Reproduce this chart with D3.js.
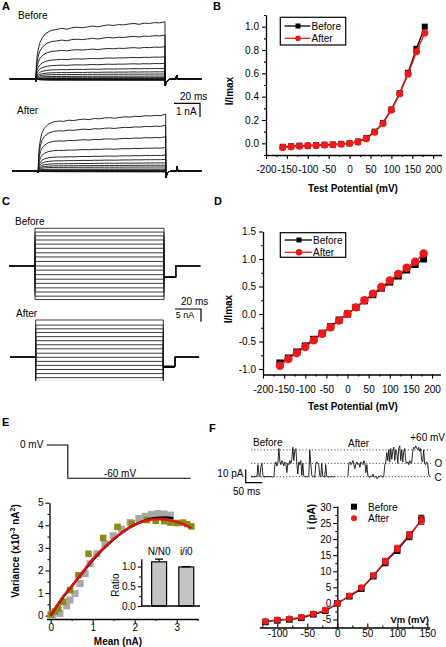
<!DOCTYPE html>
<html><head><meta charset="utf-8">
<script src="https://cdnjs.cloudflare.com/ajax/libs/d3/7.8.5/d3.min.js"></script>
<style>
html,body{margin:0;padding:0;background:#fff;}
svg{display:block;}
</style></head>
<body>
<svg id="fig" width="446" height="647"></svg>
<script>
// ================= DATA =================
const potentials = [-160,-140,-120,-100,-80,-60,-40,-20,0,20,40,60,80,100,120,140,160,180];
// Panel B (I/Imax)
const bBefore = [-0.03,-0.025,-0.02,-0.02,-0.015,-0.012,-0.01,-0.005,0,0.015,0.045,0.1,0.175,0.29,0.43,0.605,0.81,1.0];
const bAfter  = [-0.035,-0.03,-0.025,-0.02,-0.018,-0.015,-0.012,-0.008,0,0.012,0.04,0.095,0.17,0.285,0.425,0.595,0.785,0.945];
const bXTicks = [-200,-150,-100,-50,0,50,100,150,200];
const bXMinor = [-175,-125,-75,-25,25,75,125,175];
const bYTicks = [0,0.2,0.4,0.6,0.8,1.0];
const bYMinor = [-0.1,0.1,0.3,0.5,0.7,0.9,1.1];
// Panel D (I/Imax)
const dBefore = [-0.89,-0.80,-0.69,-0.58,-0.46,-0.35,-0.23,-0.11,0,0.12,0.24,0.35,0.47,0.58,0.69,0.80,0.90,1.0];
const dAfter  = [-0.94,-0.82,-0.71,-0.60,-0.48,-0.36,-0.24,-0.12,0,0.12,0.25,0.37,0.49,0.61,0.73,0.84,0.95,1.10];
const dYTicks = [-1.0,-0.5,0,0.5,1.0,1.5];
const dYMinor = [-0.75,-0.25,0.25,0.75,1.25];
// Panel A traces: activation time course (normalised) and steady amplitudes (nA)
const aTimes = [0,0.5,1,2,3,5,8,12,16,20,24,28,32,36,40,44,48,52,56,60,64,68,72,76,80,84,88,92,96,100];
const aShapeBefore = [0,0.22,0.38,0.52,0.62,0.72,0.8,0.85,0.865,0.885,0.87,0.895,0.905,0.895,0.91,0.925,0.91,0.93,0.945,0.935,0.95,0.945,0.96,0.97,0.955,0.975,0.97,0.985,0.98,1.0];
const aShapeAfter  = [0,0.25,0.42,0.56,0.66,0.75,0.82,0.86,0.875,0.87,0.89,0.885,0.9,0.91,0.9,0.92,0.915,0.93,0.935,0.925,0.94,0.95,0.945,0.96,0.955,0.97,0.965,0.975,0.97,1.0];
const aAmpBefore = [-0.08,-0.07,-0.06,-0.05,-0.04,-0.02,0,0.04,0.1,0.21,0.36,0.52,0.76,1.12,1.59,2.31,3.14,4.09];
const aAmpAfter  = [-0.08,-0.07,-0.06,-0.05,-0.04,-0.02,0,0.05,0.12,0.27,0.4,0.57,0.81,1.12,1.66,2.43,3.26,4.05];
const aTailT = [100,100.5,101.2,102.2,103.5,105.5];
const aTailV = [-0.5,-0.38,-0.22,-0.1,-0.03,0];
const aBlipT = [108.6,109,109.4];
const aBlipV = [0,0.28,0];
// Panel C tail level (normalised)
const cTailBefore = -0.30;
const cTailAfter = -0.28;
// Panel E
const eProtoT = [0,22,22,150];
const eProtoV = [0,0,-60,-60];
const eGrayMean = [0.05,0.22,0.38,0.46,0.58,0.7,0.82,0.94,1.1,1.29,1.49,1.69,1.89,2.1,2.25,2.4,2.55,2.7,2.85];
const eGrayVar  = [0.0,0.1,0.43,0.69,0.98,1.42,1.86,2.3,2.74,3.18,3.54,3.83,4.12,4.3,4.4,4.48,4.52,4.5,4.45];
const eOliveMean = [0.0,0.1,0.18,0.3,0.46,0.66,0.9,1.25,1.59,1.93,2.29,2.5,2.7,2.85,3.0,3.15,3.25,3.35];
const eOliveVar  = [0.05,0.18,0.32,0.61,1.13,1.79,2.74,3.44,3.93,4.08,4.23,4.2,4.18,4.12,4.1,4.12,4.05,3.95];
const eBlackFitX = [0,0.25,0.5,0.75,1.0,1.25,1.5,1.75,2.0,2.25,2.5,2.75,2.92];
const eBlackFitY = [0,0.7,1.3,1.88,2.45,2.95,3.38,3.75,4.03,4.22,4.33,4.35,4.3];
const eRedFitX = [0,0.25,0.5,0.75,1.0,1.25,1.5,1.75,2.0,2.25,2.5,2.75,3.0,3.2,3.35];
const eRedFitY = [0,0.72,1.3,1.9,2.5,2.98,3.4,3.75,4.02,4.2,4.28,4.25,4.15,4.02,3.88];
const insetCats = ["N/N0","i/i0"];
const insetVals = [1.12,0.99];
const insetErr  = [0.07,0.01];
// Panel F single channel traces (pA), one sample every 3 ms
const fTraceBefore = [0,0.5,-0.5,0.3,-0.3,0.4,0,9,1,0,8,10,0.5,0,-0.4,0.3,0,-0.2,0.4,-0.3,0.2,0,-0.5,0.3,9,11,8,10,21,11,9,12,10,8,11,10,3,10,9,12,10,13,22,12,20,21,10,2,11,9,12,1,10,0.5,0,-0.3,0.2,0,0.4,20,10,1,0,0.3,-0.4,9,11,10,9,1,0,10,0.5,0,-0.3,9,0.2,0,-0.4,0.3,-0.2,0.5,-0.3,0,0.2];
const fTraceAfter = [0.5,10,11,9,10,12,9,6,10,11,9,10,7,11,10,9,12,10,3,9,0.5,0,-0.5,0.3,0,2,0,-0.4,0.3,-1.5,-1,0.5,0,1,0,-0.3,0.5,9,11,18,12,20,11,21,13,19,22,12,20,18,10,21,23,12,20,11,19,21,12,10,11,9,12,10,11,19,22,21,23,21,20,22,19,21,12,11,20,10,9,11,10,2,0];
const fLevels = [0,10,20];
// Panel F I-V
const fV = [-120,-100,-80,-60,-40,-20,0,20,40,60,80,100,120,140];
const fBefore = [-5.8,-5.3,-5.0,-4.5,-3.4,-2.3,0,2.2,4.6,8.5,12.8,16.6,21.0,26.0];
const fAfter  = [-5.6,-5.1,-4.8,-4.3,-3.2,-2.1,0,2.4,4.9,8.7,13.1,17.1,21.3,25.8];
const fBeforeErr = [0.5,0.5,0.5,0.5,0.5,0.6,0.3,0.5,0.8,0.8,1.1,1.1,1.2,1.4];
const fAfterErr  = [0.4,0.4,0.4,0.4,0.4,0.5,0.3,0.4,0.6,0.7,0.9,1.0,1.0,1.2];
const fXTicks = [-100,-50,0,50,100,150];
const fXMinor = [-125,-75,-25,25,75,125];
const fYTicks = [-5,0,5,10,15,20,25,30];
const fYMinor = [-7.5,-2.5,2.5,7.5,12.5,17.5,22.5,27.5];

// ================= HELPERS =================
const FONT = "'Liberation Sans', Arial, Helvetica, sans-serif";
const RED = "#ee1a1a";
const svg = d3.select("#fig");
svg.append("rect").attr("width",446).attr("height",647).attr("fill","#fff");

function addText(x,y,s,o={}){
  const t = svg.append("text").attr("x",x).attr("y",y)
    .attr("font-family",FONT).attr("font-size",o.size||10)
    .attr("font-weight",o.bold?"bold":"normal")
    .attr("text-anchor",o.anchor||"start").attr("fill",o.fill||"#000").text(s);
  if(o.rot) t.attr("transform",`rotate(-90 ${x} ${y})`);
  return t;
}
function axisPair(kind, scale, pos, major, minor, fmt, o={}){
  const mk = kind==="left"? d3.axisLeft : d3.axisBottom;
  const tg = kind==="left" ? `translate(${pos},0)` : `translate(0,${pos})`;
  const ax = mk(scale).tickValues(major).tickFormat(fmt)
    .tickSizeInner(o.tick??4).tickSizeOuter(0).tickPadding(o.pad??3);
  const g = svg.append("g").attr("transform",tg).call(ax);
  g.attr("font-family",FONT).attr("font-size",o.fs||10);
  g.select(".domain").attr("stroke","#000").attr("stroke-width",1.3);
  g.selectAll(".tick line").attr("stroke","#000").attr("stroke-width",1.1);
  g.selectAll(".tick text").attr("fill","#000");
  if(minor){
    const m = svg.append("g").attr("transform",tg)
      .call(mk(scale).tickValues(minor).tickFormat("").tickSizeInner(o.mtick??2).tickSizeOuter(0));
    m.select(".domain").remove();
    m.selectAll(".tick line").attr("stroke","#000").attr("stroke-width",1.1);
  }
  return g;
}
function linePath(pts, xs, ys, color, w, curve, parent){
  const l = d3.line().x(d=>xs(d[0])).y(d=>ys(d[1]));
  if(curve) l.curve(curve);
  return (parent||svg).append("path").datum(pts).attr("d",l).attr("fill","none")
    .attr("stroke",color).attr("stroke-width",w).attr("stroke-linejoin","round");
}
function squares(X,Y,xs,ys,size,fill){
  svg.append("g").selectAll("rect").data(d3.zip(X,Y)).join("rect")
    .attr("x",d=>xs(d[0])-size/2).attr("y",d=>ys(d[1])-size/2)
    .attr("width",size).attr("height",size).attr("fill",fill);
}
function circles(X,Y,xs,ys,r,fill){
  svg.append("g").selectAll("circle").data(d3.zip(X,Y)).join("circle")
    .attr("cx",d=>xs(d[0])).attr("cy",d=>ys(d[1])).attr("r",r).attr("fill",fill);
}

// ================= PANEL LETTERS =================
addText(2,9.5,"A",{bold:true,size:11});
addText(213,9.5,"B",{bold:true,size:11});
addText(2,205,"C",{bold:true,size:11});
addText(214,205,"D",{bold:true,size:11});
addText(2,426,"E",{bold:true,size:11});
addText(209,432,"F",{bold:true,size:11});

// ================= PANEL A =================
function drawATraces(xs, ys, amps, shape){
  amps.forEach(amp=>{
    const pts = [[-20,0],[0,0],[0.15,-0.15]];
    aTimes.forEach((t,i)=>{ if(i>0) pts.push([t, amp*shape[i]]); });
    aTailT.forEach((t,i)=>pts.push([t,aTailV[i]]));
    aBlipT.forEach((t,i)=>pts.push([t,aBlipV[i]]));
    pts.push([128,0]);
    linePath(pts, xs, ys, "#111", 0.9);
  });
}
const xAb = d3.scaleLinear().domain([0,100]).range([35.7,165]);
const yAb = d3.scaleLinear().domain([0,1]).range([79,65]);
drawATraces(xAb, yAb, aAmpBefore, aShapeBefore);
const xAa = d3.scaleLinear().domain([0,100]).range([38,165.7]);
const yAa = d3.scaleLinear().domain([0,1]).range([170.7,156.7]);
drawATraces(xAa, yAa, aAmpAfter, aShapeAfter);
addText(18,19.3,"Before");
addText(17,114,"After");
svg.append("path").attr("d","M174,103.3H200V117").attr("fill","none").attr("stroke","#000").attr("stroke-width",1.2);
addText(180,100,"20 ms");
addText(176,115,"1 nA");

// ================= PANEL C =================
svg.append("clipPath").attr("id","clipC").append("rect").attr("x",0).attr("y",190).attr("width",215).attr("height",190.5);
const gC = svg.append("g").attr("clip-path","url(#clipC)");
function drawCTraces(xs, ys, vals, tail, tailW){
  vals.forEach(v=>{
    const pts = [[-20,0],[0,0],[0,v],[100,v],[100,tail],[109,tail],[109,0],[128,0]];
    linePath(pts, xs, ys, "#1a1a1a", 0.85, null, gC).attr("stroke-linejoin","miter");
  });
  linePath([[100,tail],[109,tail]], xs, ys, "#000", tailW, null, gC);
}
const xCb = d3.scaleLinear().domain([0,100]).range([35,164]);
const yCb = d3.scaleLinear().domain([0,1]).range([266,228.3]);
drawCTraces(xCb, yCb, dBefore, cTailBefore, 1.2);
const xCa = d3.scaleLinear().domain([0,100]).range([35.7,163.3]);
const yCa = d3.scaleLinear().domain([0,1]).range([357.3,323.4]);
drawCTraces(xCa, yCa, dAfter, cTailAfter, 2.6);
addText(15,225,"Before");
addText(16,316.7,"After");
svg.append("path").attr("d","M175,309H201V321.7").attr("fill","none").attr("stroke","#000").attr("stroke-width",1.2);
addText(181,305,"20 ms");
addText(175.7,318.3,"5 nA",{size:9});

// ================= PANEL B =================
const xB = d3.scaleLinear().domain([-200,220]).range([266,441.5]);
const yB = d3.scaleLinear().domain([-0.1,1.1]).range([155,15]);
axisPair("bottom", xB, 155, bXTicks, bXMinor, d=>String(d), {tick:4,pad:7});
axisPair("left", yB, 266, bYTicks, bYMinor, d=>d.toFixed(1), {tick:4,pad:3});
linePath(d3.zip(potentials,bBefore), xB, yB, "#000", 1.4);
squares(potentials,bBefore,xB,yB,6,"#000");
linePath(d3.zip(potentials,bAfter), xB, yB, RED, 1.4);
circles(potentials,bAfter,xB,yB,3.6,RED);
addText(353,191.5,"Test Potential (mV)",{bold:true,anchor:"middle"});
addText(233,91,"I/Imax",{bold:true,anchor:"middle",rot:true});
svg.append("rect").attr("x",280.3).attr("y",17.3).attr("width",65.4).attr("height",27.7)
  .attr("fill","#fff").attr("stroke","#000").attr("stroke-width",1.2);
svg.append("line").attr("x1",284.7).attr("x2",310.3).attr("y1",26).attr("y2",26).attr("stroke","#000").attr("stroke-width",1.3);
svg.append("rect").attr("x",295.5).attr("y",23.5).attr("width",5).attr("height",5).attr("fill","#000");
svg.append("line").attr("x1",284.7).attr("x2",310.3).attr("y1",38.3).attr("y2",38.3).attr("stroke",RED).attr("stroke-width",1.3);
svg.append("circle").attr("cx",298).attr("cy",38.3).attr("r",2.8).attr("fill",RED);
addText(311.5,29.6,"Before");
addText(311.5,41.9,"After");

// ================= PANEL D =================
const xD = d3.scaleLinear().domain([-200,220]).range([263,440.5]);
const yD = d3.scaleLinear().domain([-1.1,1.5]).range([374.5,231.5]);
axisPair("bottom", xD, 374.5, bXTicks, bXMinor, d=>String(d), {tick:4,pad:7});
axisPair("left", yD, 263, dYTicks, dYMinor, d=>d.toFixed(1), {tick:4,pad:3});
linePath(d3.zip(potentials,dBefore), xD, yD, "#000", 1.4);
squares(potentials,dBefore,xD,yD,7,"#000");
linePath(d3.zip(potentials,dAfter), xD, yD, RED, 1.4);
circles(potentials,dAfter,xD,yD,4.2,RED);
addText(353,410,"Test Potential (mV)",{bold:true,anchor:"middle"});
addText(231.5,309,"I/Imax",{bold:true,anchor:"middle",rot:true});
svg.append("rect").attr("x",280.3).attr("y",232.7).attr("width",65.4).attr("height",24.6)
  .attr("fill","#fff").attr("stroke","#000").attr("stroke-width",1.2);
svg.append("line").attr("x1",284.7).attr("x2",312).attr("y1",240).attr("y2",240).attr("stroke","#000").attr("stroke-width",1.3);
svg.append("rect").attr("x",296.5).attr("y",237.5).attr("width",5).attr("height",5).attr("fill","#000");
svg.append("line").attr("x1",284.7).attr("x2",312).attr("y1",252.3).attr("y2",252.3).attr("stroke",RED).attr("stroke-width",1.3);
svg.append("circle").attr("cx",299).attr("cy",252.3).attr("r",3.2).attr("fill",RED);
addText(313,243.6,"Before");
addText(313,255.9,"After");

// ================= PANEL E =================
const xEp = d3.scaleLinear().domain([0,150]).range([46.7,190.7]);
const yEp = d3.scaleLinear().domain([0,-60]).range([445,478.3]);
linePath(d3.zip(eProtoT,eProtoV), xEp, yEp, "#000", 1.1).attr("stroke-linejoin","miter");
addText(20,447.7,"0 mV");
addText(120,477,"-60 mV",{anchor:"middle"});

const xE = d3.scaleLinear().domain([-0.1,3.5]).range([46.5,197.7]);
const yE = d3.scaleLinear().domain([-0.15,5]).range([619,502.7]);
axisPair("bottom", xE, 619, [0,1,2,3], [0.5,1.5,2.5,3.5], d=>String(d), {tick:4,pad:1});
axisPair("left", yE, 49.5, [0,1,2,3,4,5], [0.5,1.5,2.5,3.5,4.5], d=>String(d), {tick:4,pad:2});
squares(eGrayMean,eGrayVar,xE,yE,7,"#a8a8a8");
squares(eOliveMean,eOliveVar,xE,yE,6.5,"#8a8a16");
linePath(d3.zip(eBlackFitX,eBlackFitY), xE, yE, "#000", 2.4, d3.curveMonotoneX);
linePath(d3.zip(eRedFitX,eRedFitY), xE, yE, "#e01010", 2.4, d3.curveMonotoneX);
addText(118,644.5,"Mean (nA)",{bold:true,anchor:"middle"});
const vt = svg.append("text").attr("x",18.5).attr("y",551).attr("text-anchor","middle")
  .attr("font-family",FONT).attr("font-size",10).attr("font-weight","bold")
  .attr("transform","rotate(-90 18.5 551)");
vt.append("tspan").text("Variance (x10");
vt.append("tspan").text("-3").attr("font-size",7).attr("dy",-4);
vt.append("tspan").text(" nA").attr("dy",4);
vt.append("tspan").text("2").attr("font-size",7).attr("dy",-4);
vt.append("tspan").text(")").attr("dy",4);

// inset
const xIn = d3.scaleBand().domain(insetCats).range([146.2,199.2]).paddingInner(0.45).paddingOuter(0.2);
const yIn = d3.scaleLinear().domain([0,1.2]).range([606,558.7]);
svg.append("g").selectAll("rect").data(insetCats).join("rect")
  .attr("x",d=>xIn(d)).attr("width",xIn.bandwidth())
  .attr("y",(d,i)=>yIn(insetVals[i])).attr("height",(d,i)=>yIn(0)-yIn(insetVals[i]))
  .attr("fill","#c4c4c4").attr("stroke","#000").attr("stroke-width",1.2);
insetCats.forEach((c,i)=>{
  const cx = xIn(c)+xIn.bandwidth()/2;
  const y1 = yIn(insetVals[i]), y2 = yIn(insetVals[i]+insetErr[i]);
  svg.append("path").attr("d",`M${cx},${y1}V${y2}M${cx-4},${y2}H${cx+4}`).attr("stroke","#000").attr("stroke-width",1.1).attr("fill","none");
  addText(cx, 555, c, {anchor:"middle"});
});
axisPair("left", yIn, 141.3, [0,0.5,1.0], [0.25,0.75], d=>d.toFixed(1), {tick:3.5,pad:2});
svg.append("line").attr("x1",141.3).attr("x2",200).attr("y1",606).attr("y2",606).attr("stroke","#000").attr("stroke-width",1.3);
addText(119,585,"Ratio",{anchor:"middle",rot:true});

// ================= PANEL F: single channel =================
const xFt = d3.scaleLinear().domain([0,543]).range([251,431.3]);
const yFt = d3.scaleLinear().domain([0,10]).range([476.7,463.3]);
fLevels.forEach(l=>{
  svg.append("line").attr("x1",251).attr("x2",431).attr("y1",yFt(l)).attr("y2",yFt(l))
    .attr("stroke","#333").attr("stroke-width",0.9).attr("stroke-dasharray","1.2,2");
});
linePath(fTraceBefore.map((v,i)=>[i*3,v]), xFt, yFt, "#111", 0.9);
linePath(fTraceAfter.map((v,i)=>[292+i*3,v]), xFt, yFt, "#111", 0.9);
addText(253,446,"Before");
addText(348,447,"After");
addText(445,441,"+60 mV",{anchor:"end"});
addText(434.5,467,"O");
addText(434.5,480.5,"C");
svg.append("path").attr("d","M245.7,469.3V482.7H262.3").attr("fill","none").attr("stroke","#000").attr("stroke-width",1.2);
addText(243.5,477,"10 pA",{anchor:"end"});
addText(233,494.5,"50 ms");

// ================= PANEL F: I-V =================
const xF = d3.scaleLinear().domain([-130,154]).range([259.3,429.7]);
const yF = d3.scaleLinear().domain([-7.5,30.3]).range([627.5,506]);
axisPair("bottom", xF, 627.5, fXTicks, fXMinor, d=>String(d), {tick:-4,mtick:-2,pad:2});
axisPair("left", yF, xF(0), fYTicks, fYMinor, d=>String(d), {tick:4,pad:2});
linePath(d3.zip(fV,fBefore), xF, yF, "#000", 1.3, d3.curveMonotoneX);
linePath(d3.zip(fV,fAfter), xF, yF, RED, 1.3, d3.curveMonotoneX);
function errBars(X,Y,E,color){
  X.forEach((x,i)=>{
    const cx = xF(x), a = yF(Y[i]-E[i]), b = yF(Y[i]+E[i]);
    svg.append("path").attr("d",`M${cx},${a}V${b}M${cx-3},${a}H${cx+3}M${cx-3},${b}H${cx+3}`)
      .attr("stroke",color).attr("stroke-width",1.1).attr("fill","none");
  });
}
errBars(fV,fBefore,fBeforeErr,"#000");
squares(fV,fBefore,xF,yF,6.5,"#000");
errBars(fV,fAfter,fAfterErr,RED);
circles(fV,fAfter,xF,yF,3.3,RED);
addText(409.7,623.3,"Vm (mV)",{bold:true,anchor:"middle",size:9.5});
addText(315,516.7,"i (pA)",{bold:true,anchor:"middle",rot:true});
svg.append("rect").attr("x",351).attr("y",503.7).attr("width",6).attr("height",6).attr("fill","#000");
svg.append("circle").attr("cx",354).attr("cy",518.3).attr("r",3).attr("fill",RED);
addText(368,510.5,"Before");
addText(368,522,"After");
</script>
</body></html>
